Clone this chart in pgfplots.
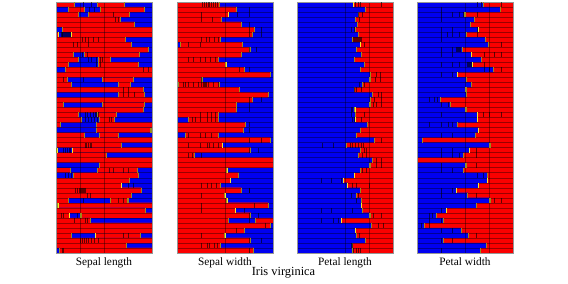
\documentclass[border=0pt]{standalone}
\usepackage{fontspec}
\setmainfont{Liberation Serif}
\usepackage{pgfplots}
\usepackage{pgfplotstable}
\pgfplotsset{compat=1.18}
\definecolor{rr}{RGB}{250,0,0}
\definecolor{bb}{RGB}{0,0,240}
\definecolor{oo}{RGB}{150,140,30}
\definecolor{yy}{RGB}{245,235,40}
\definecolor{bx}{RGB}{150,150,150}
\pgfplotstableread{
c1 c2 c3 c4
0 19 43 71
13 30 46 92
0 23 34 77
0 67 67 67
0 82 82 82
7 100 100 100
0 3 16 100
0 72 72 72
0 79 79 79
0 96 96 96
0 18 30 87
0 23 44 57
0 13 44 86
10 100 100 100
0 100 100 100
0 12 48 81
0 16 65 78
0 91 91 91
65 92 92 92
0 100 100 100
0 8 48 92
0 91 91 91
0 23 43 63
0 27 45 61
0 5 42 100
42 99 99 99
0 30 45 65
0 100 100 100
0 68 68 68
0 1 17 100
0 53 53 53
0 100 100 100
45 100 100 100
0 15 43 85
18 86 86 86
0 77 77 77
0 68 68 68
0 89 89 89
0 79 79 79
0 13 57 75
0 2 2 100
0 93 93 93
0 14 26 100
0 36 36 36
0 100 100 100
0 100 100 100
0 16 41 88
0 100 100 100
0 73 73 73
4 100 100 100
}\tsl
\pgfplotstableread{
c1 c2 c3 c4
0 44 44 44
0 62 62 62
0 54 54 54
0 46 46 46
0 67 67 67
0 81 81 81
0 79 79 79
0 45 45 45
4 68 68 68
0 76 76 76
0 67 67 67
0 43 43 43
0 51 51 51
0 70 70 70
0 97 97 97
0 26 26 26
2 44 44 44
0 65 65 65
0 95 95 95
0 79 79 79
0 62 62 62
0 62 62 62
0 43 43 43
12 43 43 43
0 71 71 71
0 69 69 69
9 43 43 43
0 97 97 97
0 47 47 47
0 77 77 77
0 18 18 18
0 100 100 100
0 100 100 100
0 52 52 52
0 64 64 64
0 56 56 56
0 45 45 45
0 67 67 67
0 50 50 50
0 52 52 52
0 95 95 95
0 61 61 61
0 77 77 77
0 54 82 100
0 97 97 97
0 70 70 70
0 50 50 50
0 77 77 77
0 45 45 45
0 80 80 80
}\tsw
\pgfplotstableread{
c1 c2 c3 c4
59 100 100 100
71 100 100 100
64 100 100 100
61 100 100 100
63 100 100 100
61 100 100 100
64 100 100 100
58 100 100 100
66 100 100 100
62 100 100 100
67 100 100 100
60 100 100 100
70 100 100 100
66 100 100 100
77 100 100 100
76 100 100 100
68 100 100 100
60 100 100 100
79 100 100 100
77 100 100 100
76 100 100 100
60 100 100 100
61 100 100 100
61 100 100 100
73 100 100 100
66 100 100 100
62 100 100 100
81 100 100 100
52 100 100 100
66 100 100 100
64 100 100 100
79 100 100 100
76 100 100 100
66 100 100 100
60 100 100 100
48 100 100 100
53 100 100 100
66 100 100 100
62 100 100 100
67 100 100 100
67 100 100 100
68 100 100 100
76 100 100 100
46 100 100 100
78 100 100 100
61 100 100 100
62 100 100 100
71 100 100 100
58 100 100 100
58 100 100 100
}\tpl
\pgfplotstableread{
c1 c2 c3 c4
69 100 100 100
87 100 100 100
50 100 100 100
60 100 100 100
56 100 100 100
64 100 100 100
52 100 100 100
71 100 100 100
74 100 100 100
47 100 100 100
57 100 100 100
67 100 100 100
58 100 100 100
80 100 100 100
42 100 100 100
52 100 100 100
57 100 100 100
51 100 100 100
52 100 100 100
24 100 100 100
35 100 100 100
51 100 100 100
63 100 100 100
63 100 100 100
42 100 100 100
64 100 100 100
61 100 100 100
6 100 100 100
76 100 100 100
55 100 100 100
48 100 100 100
0 100 100 100
51 100 100 100
48 100 100 100
73 100 100 100
73 100 100 100
64 100 100 100
41 100 100 100
53 100 100 100
76 100 100 100
62 100 100 100
31 100 100 100
20 100 100 100
28 100 100 100
8 100 100 100
46 100 100 100
54 100 100 100
28 100 100 100
72 100 100 100
66 100 100 100
}\tpw
\pgfplotsset{
 seg/.style={xbar, bar shift=0pt, bar width=1.04, draw=none, fill=#1, forget plot},
 cut/.style={only marks, mark=|, mark size=2.5bp, mark options={draw=oo, line width=1.1bp}, restrict x to domain=0.5:99.5, forget plot},
 yel/.style={only marks, mark=|, mark size=2.5bp, mark options={draw=yy, line width=0.8bp}, forget plot},
 fine/.style={only marks, mark=|, mark size=2.5bp, mark options={draw=black, draw opacity=0.6, line width=0.45bp}, forget plot},
 panel/.style={scale only axis, width=96bp, height=251bp, anchor=south west,
  xmin=0, xmax=100, ymin=-0.5, ymax=49.5, y dir=reverse, axis on top,
  ytick={0.5,1.5,...,48.5}, yticklabels={}, xticklabels={},
  tick style={draw=none}, ymajorgrids, xmajorgrids,
  ymajorgrids, 
  major grid style={black, opacity=0.38, line width=0.4bp},
  axis line style={draw=bx, line width=0.7bp},
  xlabel style={at={(axis description cs:0.5,0)}, anchor=north, yshift=-3bp, inner sep=1bp, font=\fontsize{11.3bp}{13bp}\selectfont}},
}
\newcommand\cuts[1]{%
 \addplot[seg=bb] table[y expr=\coordindex, x expr=100] {#1};
 \addplot[seg=rr] table[y expr=\coordindex, x=c4] {#1};
 \addplot[seg=bb] table[y expr=\coordindex, x=c3] {#1};
 \addplot[seg=rr] table[y expr=\coordindex, x=c2] {#1};
 \addplot[seg=bb] table[y expr=\coordindex, x=c1] {#1};
 \addplot[cut] table[y expr=\coordindex, x=c1] {#1};
 \addplot[cut] table[y expr=\coordindex, x=c2] {#1};
 \addplot[cut] table[y expr=\coordindex, x=c3] {#1};
 \addplot[cut] table[y expr=\coordindex, x=c4] {#1};
}
\begin{document}
\begin{tikzpicture}[x=1bp,y=1bp]
\path[use as bounding box] (0,0) rectangle (568,283);
\begin{axis}[panel, at={(56bp,30bp)}, xtick={25,50}, xlabel={Sepal length}]
\cuts{\tsl}
\addplot[fine] coordinates {(28,0)(37,0)(35,1)(40,1)(60,2)(62,3)(65,3)
 (5,6)(6,6)(7,6)(8,6)(9,6)(10,6)(11,6)(12,6)(13,6)(14,6)(15,6)
 (27,7)(30,7)(34,7)(39,7)(44,7)(18,8)(22,8)(34,8)(27,10)(33,10)(34,11)(37,11)(42,11)(46,11)(48,11)
 (42,12)(46,12)(91,13)(96,13)(8,15)(28,15)(70,17)(75,17)(70,18)(75,18)(82,18)(30,22)(33,22)(36,22)(39,22)(41,22)(42,22)(44,22)
 (30,23)(34,23)(37,23)(40,23)(43,23)(55,23)(58,23)(30,28)(32,28)(34,28)(36,28)(37,28)
 (8,29)(10,29)(12,29)(14,29)(15,29)(55,33)(60,33)(70,33)(75,33)(10,34)(13,34)(16,34)(75,36)(80,36)
 (20,37)(22,37)(24,37)(25,37)(26,37)(27,37)(28,37)(29,37)(30,37)(33,38)(28,39)(36,38)(65,39)(70,39)(5,42)(8,42)(22,42)(19,43)(30,43)(33,43)(25,47)(27,47)(29,47)(31,47)(34,47)(37,47)(40,47)(44,47)(70,46)(75,46)(6,49)(8,49)};
\addplot[yel] coordinates {(3,6)(16,6)(1,29)(17,29)(2,40)(14,42)(41,46)(68,36)};
\end{axis}
\begin{axis}[panel, at={(177bp,30bp)}, xtick={50}, xlabel={Sepal width}]
\cuts{\tsw}
\addplot[fine] coordinates {(26,0)(28,0)(30,0)(32,0)(34,0)(36,0)(38,0)(40,0)(42,0)(75,1)(75,2)(63,2)(25,2)(25,3)(37,3)(75,4)(75,5)(88,5)(75,6)(88,6)
 (25,7)(30,7)(34,7)(39,7)(43,7)(12,8)(24,8)(75,9)(82,9)(12,11)(17,11)(24,11)(29,11)(35,11)(40,11)(65,13)(75,13)(25,15)
 (6,16)(9,16)(12,16)(17,16)(22,16)(25,16)(27,16)(28,16)(29,16)(30,16)(33,16)(38,16)(43,16)(75,19)(88,19)(75,20)(75,21)
 (24,22)(31,22)(36,22)(40,22)(16,23)(19,23)(24,23)(31,23)(36,23)(40,23)(75,24)(75,25)(12,26)(24,26)(29,26)(36,26)(75,27)(88,27)
 (12,28)(24,28)(31,28)(34,28)(38,28)(43,28)(75,29)(85,29)(12,30)(16,30)(25,30)(25,36)(31,36)(36,36)(41,36)(75,37)(25,38)(25,40)(80,40)(25,41)(70,41)(75,42)(85,42)(75,43)(92,44)(62,45)(25,46)(75,47)(88,47)(25,48)(31,48)(34,48)(39,48)(42,48)(75,49)(75,37)};
\addplot[yel] coordinates {(54,2)(51,12)(47,28)(52,33)(56,35)(50,38)(52,39)(61,41)(50,46)};
\end{axis}
\begin{axis}[panel, at={(297bp,30bp)}, xtick={50,75}, xlabel={Petal length}]
\cuts{\tpl}
\addplot[fine] coordinates {(61,0)(64,0)(66,0)(88,0)(64,2)(68,2)(65,3)(60,5)(56,5)(59,7)(60,7)(61,7)(62,7)(63,7)(64,7)(65,7)(66,7)(67,7)(70,8)(82,14)(87,14)(81,15)(87,15)(65,16)(70,16)(60,17)(62,17)(67,17)(85,18)(88,18)(80,19)(88,19)(79,20)(82,20)(88,20)
 (56,21)(58,21)(56,22)(70,22)(58,23)(60,23)(67,23)(88,27)(26,28)(38,28)(55,28)(58,28)(61,28)(64,28)(67,28)(69,28)(70,29)(72,29)(68,30)(72,30)(83,31)(88,31)(82,32)(88,32)(68,33)(72,33)(25,35)(36,35)(46,35)(58,36)(62,36)(75,36)(56,38)(64,38)(62,39)(25,41)(36,41)(58,41)(79,42)(88,42)(25,43)(38,43)(43,43)(85,44)(90,44)(65,46)(58,48)(56,48)(59,49)(62,49)(64,49)(66,49)};
\addplot[yel] coordinates {(59,0)(66,8)(61,21)(61,23)(60,34)(48,35)(53,36)(67,40)(46,43)(61,45)};
\end{axis}
\begin{axis}[panel, at={(417bp,30bp)}, xtick={50,75}, xlabel={Petal width}]
\cuts{\tpw}
\addplot[fine] coordinates {(63,0)(67,0)(88,0)(25,1)(25,2)(37,2)(44,2)(48,2)(63,2)(25,3)(25,5)(37,5)(63,5)(25,6)(31,6)(37,6)(44,6)(63,6)(25,7)(88,8)
 (25,9)(37,9)(41,9)(42,9)(43,9)(44,9)(45,9)(25,10)(37,10)(70,10)(80,10)(88,10)(25,12)(37,12)(44,12)(52,12)(53,12)(54,12)(55,12)(56,12)(70,12)(25,14)(37,14)(70,13)(75,13)(88,13)
 (13,19)(18,19)(21,19)(25,20)(32,20)(25,22)(75,22)(69,22)(88,22)(13,24)(25,24)(32,24)(37,24)(25,26)(37,26)(25,29)(37,29)(62,29)(25,30)(37,30)(44,30)(62,30)(25,32)(62,32)(25,33)(37,33)
 (63,34)(69,34)(25,37)(37,37)(25,38)(62,38)(80,39)(88,39)(25,41)(13,42)(16,42)(13,43)(25,43)(4,44)(13,44)(25,45)(37,45)(62,46)(25,47)(37,47)(25,49)};
\addplot[yel] coordinates {(64,5)(57,10)(58,12)(42,14)(63,22)(63,23)(64,25)(55,29)(41,37)(73,35)(31,41)(64,36)};
\end{axis}
\node[font=\fontsize{12.4bp}{14bp}\selectfont, inner sep=0pt] at (283.5,10.5) {Iris virginica};
\end{tikzpicture}
\end{document}
